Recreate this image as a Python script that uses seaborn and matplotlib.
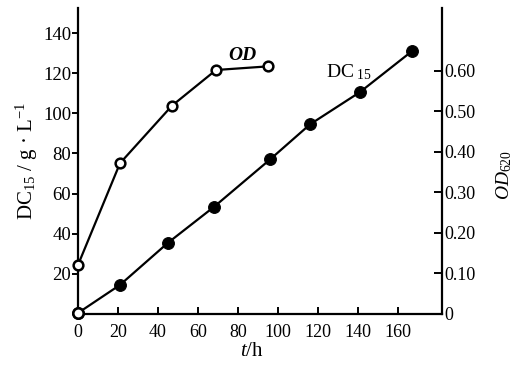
import matplotlib
matplotlib.use("Agg")
import matplotlib.pyplot as plt
import seaborn as sns
import pandas as pd

# Data
dc_time = [0, 21, 45, 68, 96, 116, 141, 167]
dc_values = [0.5, 14.5, 35.5, 53.4, 77.0, 94.5, 110.6, 131.0]
od_time = [0, 21, 47, 69, 95]
od_values = [0.121, 0.372, 0.514, 0.602, 0.611]
x_ticks = [0, 20, 40, 60, 80, 100, 120, 140, 160]
left_ticks = [20, 40, 60, 80, 100, 120, 140]
right_ticks = [0, 0.10, 0.20, 0.30, 0.40, 0.50, 0.60]
right_tick_labels = ["0", "0.10", "0.20", "0.30", "0.40", "0.50", "0.60"]

sns.set_theme(style="ticks")
plt.rcParams["font.family"] = ["Liberation Serif", "DejaVu Serif"]
plt.rcParams["mathtext.fontset"] = "custom"
plt.rcParams["mathtext.rm"] = "Liberation Serif"
plt.rcParams["mathtext.it"] = "Liberation Serif:italic"
plt.rcParams["mathtext.bf"] = "Liberation Serif:bold"

fig = plt.figure(figsize=(5.17, 3.68), dpi=100)
ax = fig.add_axes([78 / 517, 54 / 368, 364 / 517, 306 / 368])
ax2 = ax.twinx()

dc_df = pd.DataFrame({"t": dc_time, "dc": dc_values})
od_df = pd.DataFrame({"t": od_time, "od": od_values})

sns.lineplot(data=dc_df, x="t", y="dc", ax=ax, color="black", lw=1.6,
             marker="o", markersize=8.5, markerfacecolor="black",
             markeredgecolor="black", clip_on=False, zorder=3)
# the origin point appears hollow in the reference
sns.scatterplot(data=dc_df.iloc[:1], x="t", y="dc", ax=ax, s=55,
                facecolor="white", edgecolor="black", linewidth=1.8,
                clip_on=False, zorder=4)
sns.lineplot(data=od_df, x="t", y="od", ax=ax2, color="black", lw=1.6,
             marker="o", markersize=7, markerfacecolor="white",
             markeredgecolor="black", markeredgewidth=1.8, clip_on=False, zorder=3)

ax.set_xlim(0, 182)
ax.set_ylim(0, 152.5)
ax2.set_ylim(0, 0.755)

for a in (ax, ax2):
    a.spines["top"].set_visible(False)
    for s in a.spines.values():
        s.set_linewidth(1.6)
        s.set_color("black")
ax.spines["right"].set_visible(False)
ax2.spines["left"].set_visible(False)
ax2.spines["bottom"].set_visible(False)

ax.set_xticks(x_ticks)
ax.set_xticklabels([str(v) for v in x_ticks], fontsize=13)
ax.set_yticks(left_ticks)
ax.set_yticklabels([str(v) for v in left_ticks], fontsize=13.5)
ax.tick_params(axis="x", direction="in", length=5, width=1.4, pad=7, colors="black")
ax.tick_params(axis="y", direction="out", length=4, width=1.4, pad=1, colors="black")

ax2.set_yticks(right_ticks)
ax2.set_yticklabels(right_tick_labels, fontsize=13)
ax2.tick_params(axis="y", direction="in", length=6, width=1.4, pad=2, colors="black")

ax.set_xlabel(r"$t$/h", fontsize=15, color="black")
ax.xaxis.set_label_coords(0.478, -0.09)
ax.set_ylabel(r"DC$_{15}$ / g · L$^{-1}$", fontsize=15, color="black")
ax.yaxis.set_label_coords(-0.105, 0.5)
ax2.set_ylabel(r"$OD_{620}$", fontsize=14, color="black", rotation=90)
ax2.yaxis.set_label_coords(1.143, 0.455)

ax.text(75, 129, "OD", fontsize=14, fontstyle="italic", fontweight="bold",
        ha="left", va="center", color="black")
ax.text(124, 120.5, r"DC$_{\ 15}$", fontsize=14, ha="left", va="center", color="black")

ax.grid(False)
ax2.grid(False)
fig.savefig("out.png", dpi=100)
